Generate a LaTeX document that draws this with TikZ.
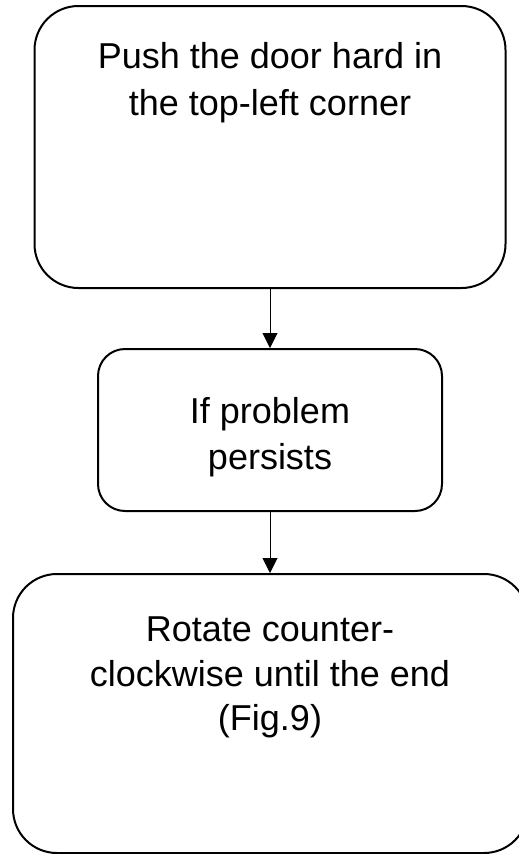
\documentclass[tikz,border=0pt]{standalone}
\usepackage{fontspec}
\setmainfont{Liberation Sans}
\usetikzlibrary{arrows.meta}
\begin{document}
\begin{tikzpicture}[x=1pt,y=-1pt,
  box/.style={draw=black, line width=2pt, rounded corners=#1, inner sep=0pt, fill=none},
  txt/.style={align=center, inner sep=0pt, anchor=north, text=black},
  conn/.style={draw=black, line width=1pt, -{Triangle[width=15pt,length=15pt]}}]
\useasboundingbox (0,0) rectangle (519,854);
\clip (0,0) rectangle (519,854);
\node[box=44pt, minimum width=471pt, minimum height=282pt] (b1) at (270,147) {};
\node[box=27pt, minimum width=344pt, minimum height=162pt] (b2) at (270,430) {};
\node[box=44pt, minimum width=515pt, minimum height=279pt] (b3) at (270.5,713.5) {};
\node[txt, font=\fontsize{36}{47}\selectfont] (t1) at (270,42) {Push the door hard in\\the top-left corner};
\node[txt, font=\fontsize{36}{46}\selectfont] (t2) at (270,397) {If problem\\persists};
\node[txt, font=\fontsize{36}{44.5}\selectfont] (t3) at (270,617) {Rotate counter-\\clockwise until the end\\(Fig.9)};
\draw[conn] (b1.south -| b2.north) -- (b2.north);
\draw[conn] (b2.south) -- (b2.south |- b3.north);
\end{tikzpicture}
\end{document}
